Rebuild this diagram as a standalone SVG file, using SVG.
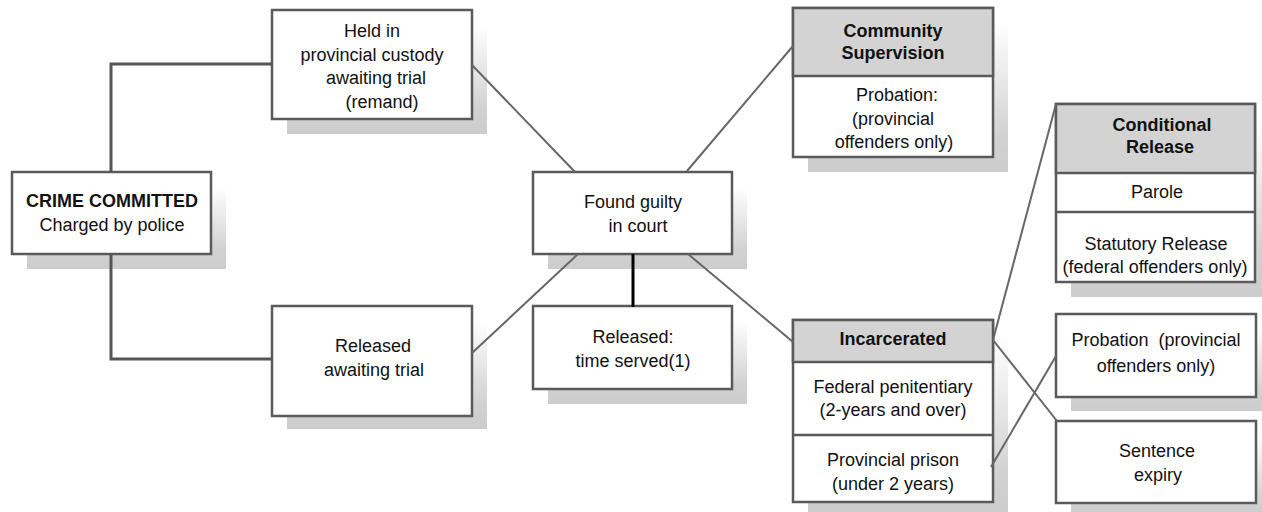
<svg xmlns="http://www.w3.org/2000/svg" width="1262" height="512" viewBox="0 0 1262 512">
<defs>
<linearGradient id="sh" x1="0" y1="0" x2="0" y2="1">
<stop offset="0" stop-color="#ffffff"/>
<stop offset="0.75" stop-color="#d2d2d2"/>
<stop offset="1" stop-color="#cccccc"/>
</linearGradient>
</defs>
<style>
.box{fill:#fff;stroke:#5a5a5a;stroke-width:2.5}
.hdr{fill:#d3d3d3;stroke:#5a5a5a;stroke-width:2.5}
.shadow{fill:url(#sh)}
text{font-family:"Liberation Sans",Arial,sans-serif;font-size:18px;fill:#111;text-anchor:middle}
.b{font-weight:bold}
.elbow{fill:none;stroke:#555;stroke-width:3}
.diag{stroke:#666;stroke-width:2}
.dark{stroke:#000;stroke-width:3}
</style>
<rect width="1262" height="512" fill="#fff"/>
<g id="crime">
<rect class="shadow" x="27" y="187" width="199" height="82"/>
<rect class="box" x="12" y="172" width="199" height="82"/>
<text class="b" x="112" y="207">CRIME COMMITTED</text>
<text x="112" y="231">Charged by police</text>
</g>
<g id="held">
<rect class="shadow" x="287" y="25" width="200" height="109"/>
<rect class="box" x="272" y="10" width="200" height="109"/>
<text x="372" y="37">Held in</text>
<text x="372" y="61">provincial custody</text>
<text x="376" y="84">awaiting trial</text>
<text x="382" y="108">(remand)</text>
</g>
<g id="released">
<rect class="shadow" x="287" y="321" width="200" height="108"/>
<rect class="box" x="272" y="306" width="200" height="110"/>
<text x="373" y="352">Released</text>
<text x="374" y="376">awaiting trial</text>
</g>
<g id="found">
<rect class="shadow" x="548" y="187" width="199" height="82"/>
<rect class="box" x="533" y="172" width="199" height="82"/>
<text x="633" y="208">Found guilty</text>
<text x="638" y="232">in court</text>
</g>
<g id="timeserved">
<rect class="shadow" x="548" y="321" width="199" height="83"/>
<rect class="box" x="533" y="306" width="199" height="83"/>
<text x="633" y="343">Released:</text>
<text x="633" y="367">time served(1)</text>
</g>
<g id="community">
<rect class="shadow" x="808" y="23" width="200" height="149"/>
<rect class="box" x="793" y="8" width="200" height="149"/>
<rect class="hdr" x="793" y="8" width="200" height="68"/>
<text class="b" x="893" y="37">Community</text>
<text class="b" x="893" y="59">Supervision</text>
<text x="897" y="101">Probation:</text>
<text x="893" y="125">(provincial</text>
<text x="894" y="148">offenders only)</text>
</g>
<g id="incarcerated">
<rect class="shadow" x="808" y="335" width="200" height="182"/>
<rect class="box" x="793" y="320" width="200" height="182"/>
<rect class="hdr" x="793" y="320" width="200" height="42"/>
<line class="box" x1="793" y1="435" x2="993" y2="435"/>
<text class="b" x="893" y="345">Incarcerated</text>
<text x="893" y="393">Federal penitentiary</text>
<text x="893" y="416">(2-years and over)</text>
<text x="893" y="466">Provincial prison</text>
<text x="893" y="490">(under 2 years)</text>
</g>
<g id="conditional">
<rect class="shadow" x="1071" y="119" width="199" height="178"/>
<rect class="box" x="1056" y="104" width="199" height="178"/>
<rect class="hdr" x="1056" y="104" width="199" height="69"/>
<line class="box" x1="1056" y1="212" x2="1255" y2="212"/>
<text class="b" x="1162" y="131">Conditional</text>
<text class="b" x="1160" y="153">Release</text>
<text x="1157" y="198">Parole</text>
<text x="1156" y="250">Statutory Release</text>
<text x="1155" y="273">(federal offenders only)</text>
</g>
<g id="probation">
<rect class="shadow" x="1071" y="329" width="200" height="82"/>
<rect class="box" x="1056" y="314" width="200" height="83"/>
<text x="1156" y="346" xml:space="preserve">Probation  (provincial</text>
<text x="1156" y="372">offenders only)</text>
</g>
<g id="expiry">
<rect class="shadow" x="1071" y="436" width="200" height="82"/>
<rect class="box" x="1056" y="421" width="200" height="82"/>
<text x="1157" y="457">Sentence</text>
<text x="1158" y="481">expiry</text>
</g>
<g id="connectors">
<polyline class="elbow" points="272,64 111,64 111,172"/>
<polyline class="elbow" points="111,254 111,359 272,359"/>
<line class="diag" x1="472" y1="65" x2="575" y2="172"/>
<line class="diag" x1="472" y1="353" x2="578" y2="254"/>
<line class="diag" x1="687" y1="171" x2="793" y2="46"/>
<line class="diag" x1="688" y1="254" x2="793" y2="342"/>
<line class="dark" x1="633" y1="254" x2="633" y2="307"/>
<line class="diag" x1="1056" y1="104" x2="993" y2="340"/>
<line class="diag" x1="993" y1="340" x2="1057" y2="421"/>
<line class="diag" x1="991" y1="467" x2="1056" y2="356"/>
</g>
</svg>
